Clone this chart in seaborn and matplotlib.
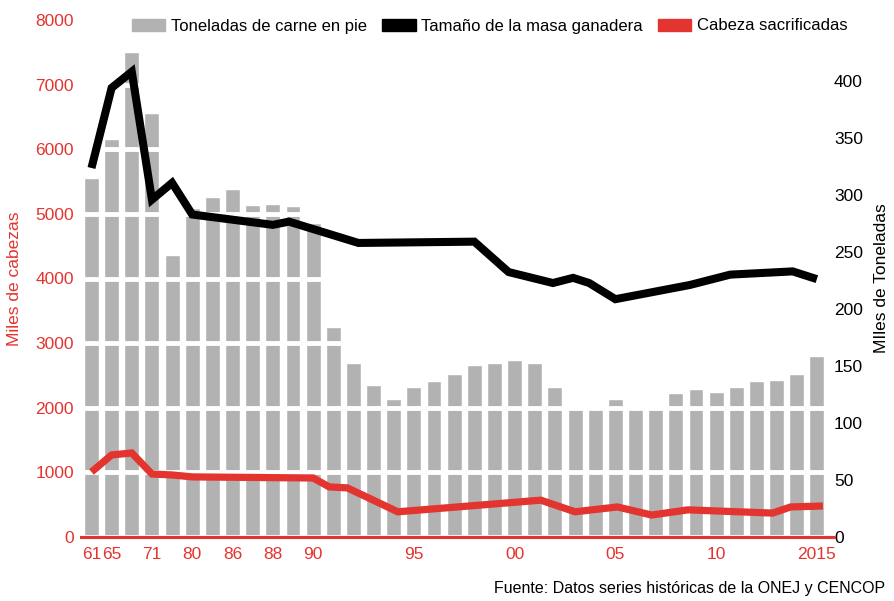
import numpy as np
import pandas as pd
import seaborn as sns
import matplotlib.pyplot as plt
from matplotlib.patches import Patch

# Bars: Toneladas de carne en pie (miles de toneladas), one per period
tons = [315, 349, 425, 372, 247, 289, 298, 305, 291, 292, 290, 275,
        184, 153, 133, 121, 132, 137, 143, 151, 153, 155, 153, 132,
        112, 112, 121, 112, 112, 126, 130, 127, 132, 137, 138, 143, 159]

# Black line: Tamaño de la masa ganadera (miles de cabezas), vertices
herd_x = [0, 1, 2, 3, 4, 5, 9, 9.8, 13.25, 19, 20.7, 22.9, 23.9, 24.7, 26, 29.7, 31.7, 34.8, 36]
herd_y = [5710, 6950, 7200, 5220, 5480, 4990, 4830, 4880, 4550, 4570, 4100, 3930, 4010, 3930,
          3680, 3900, 4060, 4110, 3990]

# Red line: Cabeza sacrificadas (miles de cabezas), vertices
slaughter_x = [0, 1, 2, 3, 4, 5, 11, 11.8, 12.7, 15.2, 22.3, 24, 26.1, 27.8, 29.6, 33.8, 34.7, 36.3]
slaughter_y = [1006, 1270, 1300, 975, 960, 930, 913, 775, 760, 390, 570, 390, 465, 340, 420,
               370, 465, 480]

tick_pos = [0, 1, 3, 5, 7, 9, 11, 16, 21, 26, 31, 36]
tick_labels = ['61', '65', '71', '80', '86', '88', '90', '95', '00', '05', '10', '2015']

RED = '#e3342f'
GREY = '#b2b2b2'

sns.set_style('white')
plt.rcParams['font.family'] = ['Liberation Sans', 'DejaVu Sans']
plt.rcParams['text.color'] = 'black'

fig = plt.figure(figsize=(8.94, 6.01), dpi=100)
ax = fig.add_axes([81 / 894, 64 / 601, (834 - 81) / 894, (537 - 20) / 601])
ax2 = ax.twinx()

bars = pd.DataFrame({'idx': np.arange(len(tons)), 'tons': tons})
sns.barplot(data=bars, x='idx', y='tons', color=GREY, width=0.74, saturation=1, ax=ax2)

sns.lineplot(x=herd_x, y=herd_y, color='black', linewidth=5.8, ax=ax)
sns.lineplot(x=slaughter_x, y=slaughter_y, color=RED, linewidth=5.2, ax=ax)
for l in ax.lines:
    l.set_solid_capstyle('butt')
    l.set_solid_joinstyle('miter')

# left axis on top of the bars, so white grid lies over them
ax.set_zorder(ax2.get_zorder() + 1)
ax.patch.set_visible(False)

ax.set_xlim(-0.52, 36.85)
ax.set_ylim(0, 8000)
ax2.set_ylim(0, 453.5)

ax.set_yticks(range(0, 8001, 1000))
ax.yaxis.grid(True, color='white', linewidth=3.5)
ax.xaxis.grid(False)
ax2.grid(False)
ax.set_axisbelow(True)

ax2.set_yticks(range(0, 401, 50))
ax.set_xticks(tick_pos)
ax.set_xticklabels(tick_labels)

ax.tick_params(axis='y', colors=RED, labelsize=12.5, length=0, pad=5)
ax.tick_params(axis='x', colors=RED, labelsize=12.5, length=0, pad=7)
ax2.tick_params(axis='y', colors='black', labelsize=12.5, length=0, pad=0)
ax2.set_xlabel('')

for a in (ax, ax2):
    for s in ['top', 'left', 'right']:
        a.spines[s].set_visible(False)
ax2.spines['bottom'].set_visible(False)
ax.spines['bottom'].set_color(RED)
ax.spines['bottom'].set_linewidth(2.2)

ax.set_ylabel('Miles de cabezas', color=RED, fontsize=12.5, labelpad=10)
ax2.set_ylabel('MIles de Toneladas', color='black', fontsize=12.5, labelpad=8)
ax.set_xlabel('')

handles = [Patch(color=GREY), Patch(color='black'), Patch(color=RED)]
names = ['Toneladas de carne en pie', 'Tamaño de la masa ganadera', 'Cabeza sacrificadas']
fig.legend(handles, names, ncol=3, loc='center', bbox_to_anchor=(490 / 894, 1 - 26 / 601),
           frameon=False, fontsize=12, handlelength=2.0, handleheight=0.7,
           handletextpad=0.35, columnspacing=0.9, labelcolor='black')

fig.text(885 / 894, 1 - 588 / 601, 'Fuente: Datos series históricas de la ONEJ y CENCOP',
         ha='right', va='center', fontsize=11.5, color='black')

fig.savefig('out.png', dpi=100)
